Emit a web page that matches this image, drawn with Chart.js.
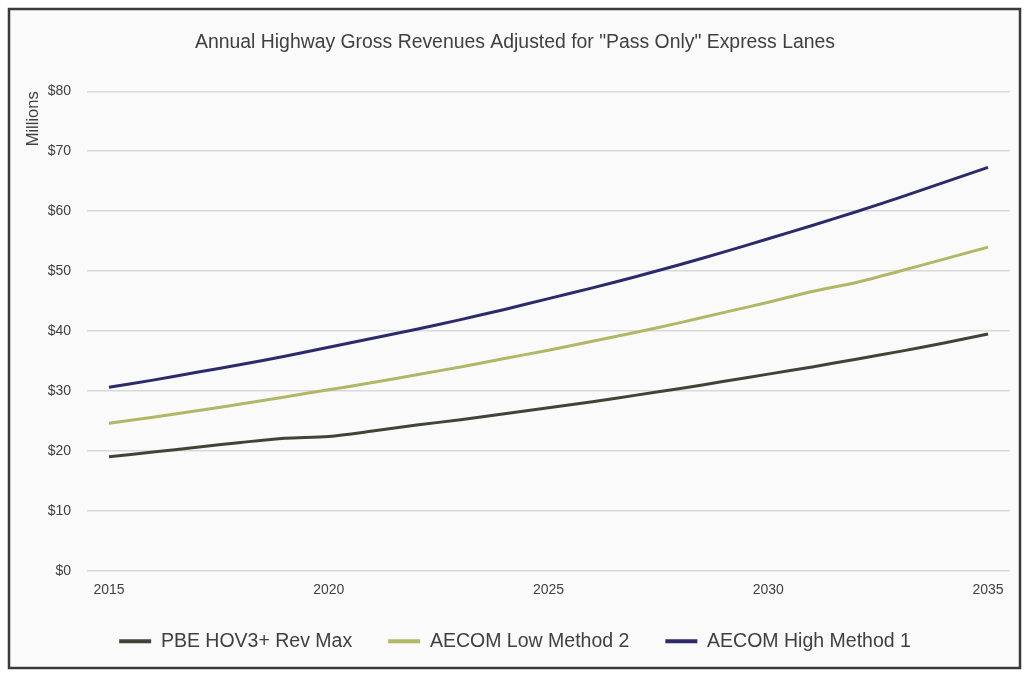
<!DOCTYPE html>
<html>
<head>
<meta charset="utf-8">
<script src="https://cdn.jsdelivr.net/npm/chart.js@4.4.0/dist/chart.umd.min.js"></script>
<style>
  html, body { margin: 0; padding: 0; background: #ffffff; }
  #wrap { position: relative; width: 1028px; height: 679px; }
</style>
</head>
<body>
<div id="wrap"><canvas id="myChart" width="1028" height="679"></canvas></div>
<script>
const years = ['2015', '2016', '2017', '2018', '2019', '2020', '2021', '2022', '2023', '2024', '2025',
    '2026', '2027', '2028', '2029', '2030', '2031', '2032', '2033', '2034', '2035'];

// values in $ millions
const pbeHov3 = [19.0, 19.8, 20.6, 21.4, 22.1, 22.4, 23.3, 24.3, 25.2, 26.2, 27.2,
    28.2, 29.3, 30.4, 31.6, 32.8, 34.0, 35.3, 36.6, 38.0, 39.5];
const aecomLow = [24.6, 25.6, 26.7, 27.8, 29.0, 30.2, 31.4, 32.7, 34.0, 35.4, 36.8,
    38.3, 39.8, 41.4, 43.1, 44.8, 46.6, 48.1, 50.0, 52.0, 54.0];
const aecomHigh = [30.6, 31.8, 33.1, 34.4, 35.8, 37.3, 38.8, 40.3, 41.9, 43.6, 45.4,
    47.2, 49.1, 51.1, 53.2, 55.4, 57.6, 59.9, 62.3, 64.8, 67.3];

const seriesNames = ['PBE HOV3+ Rev Max', 'AECOM Low Method 2', 'AECOM High Method 1'];
const seriesColors = ['#3e4537', '#b2b766', '#2c2a6c'];

// frame + light background behind the chart
const framePlugin = {
    id: 'frame',
    afterLayout(chart) {
        // pull the legend up, closer to the x labels
        chart.legend.top -= 14;
        chart.legend.bottom -= 14;
    },
    beforeDraw(chart) {
        const c = chart.ctx;
        c.save();
        c.fillStyle = '#ffffff';
        c.fillRect(0, 0, chart.width, chart.height);
        c.fillStyle = '#fafafa';
        c.fillRect(10, 10, 1009, 657);
        c.strokeStyle = '#3a3a3a';
        c.lineWidth = 2.5;
        c.strokeRect(9, 9, 1011, 659);
        c.restore();
    }
};

Chart.defaults.font.family = '"Liberation Sans", Arial, sans-serif';
Chart.defaults.color = '#595959';

let ctx = document.getElementById('myChart').getContext('2d');
let revenueChart = new Chart(ctx, {
    type: 'line',
    data: {
        labels: years,
        datasets: [pbeHov3, aecomLow, aecomHigh].map((vals, i) => ({
            label: seriesNames[i],
            data: vals,
            borderColor: seriesColors[i],
            backgroundColor: seriesColors[i],
            borderWidth: 3,
            pointRadius: 0,
            tension: 0.3,
            fill: false
        }))
    },
    options: {
        responsive: false,
        animation: false,
        layout: { padding: { left: 20, right: 18, top: 10, bottom: 4 } },
        plugins: {
            title: {
                display: true,
                text: 'Annual Highway Gross Revenues Adjusted for "Pass Only" Express Lanes',
                color: '#404040',
                font: { size: 19.4, weight: 'normal' },
                padding: { top: 21, bottom: 37 }
            },
            legend: {
                position: 'bottom',
                labels: {
                    color: '#404040',
                    font: { size: 19.5 },
                    boxWidth: 32,
                    boxHeight: 4,
                    padding: 36,
                    generateLabels(chart) {
                        return chart.data.datasets.map((ds, i) => ({
                            text: ds.label,
                            fillStyle: ds.borderColor,
                            strokeStyle: ds.borderColor,
                            lineWidth: 0,
                            fontColor: '#404040',
                            datasetIndex: i,
                            hidden: false
                        }));
                    }
                }
            },
            tooltip: { enabled: false }
        },
        scales: {
            x: {
                offset: true,
                grid: { display: false, drawTicks: false },
                border: { display: false },
                ticks: {
                    autoSkip: false,
                    maxRotation: 0,
                    padding: 11,
                    font: { size: 14 },
                    color: '#404040',
                    callback: function (value, index) {
                        const y = Number(years[index]);
                        return y % 5 === 0 ? years[index] : '';
                    }
                }
            },
            y: {
                min: 0,
                max: 80,
                grid: { color: '#d9d9d9', drawTicks: false, lineWidth: 1.5 },
                border: { display: false },
                ticks: {
                    stepSize: 10,
                    padding: 16,
                    font: { size: 14 },
                    color: '#404040',
                    callback: v => '$' + v
                },
                title: {
                    display: true,
                    text: 'Millions',
                    align: 'end',
                    color: '#404040',
                    font: { size: 16.5 }
                },
                afterFit: function (scale) { scale.width = 67; }
            }
        }
    },
    plugins: [framePlugin]
});
</script>
</body>
</html>
